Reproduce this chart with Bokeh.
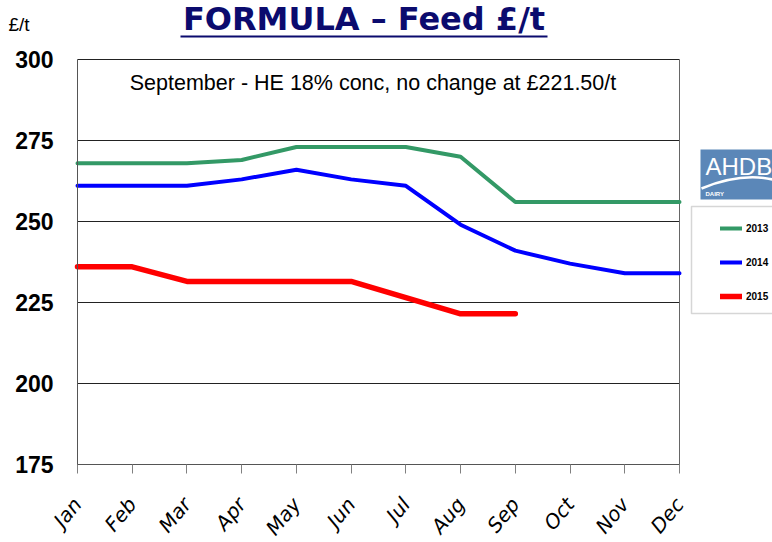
from bokeh.plotting import figure
from bokeh.models import (Range1d, FixedTicker, Label, BoxAnnotation, Legend,
                          LegendItem)
from bokeh.embed import file_html
from bokeh.resources import INLINE

# ---- data ----
months = ["Jan", "Feb", "Mar", "Apr", "May", "Jun",
          "Jul", "Aug", "Sep", "Oct", "Nov", "Dec"]
y2013 = [268, 268, 268, 269, 273, 273, 273, 270, 256, 256, 256, 256]
y2014 = [261, 261, 261, 263, 266, 263, 261, 249, 241, 237, 234, 234]
y2015 = [236, 236, 231.5, 231.5, 231.5, 231.5, 226.5, 221.5, 221.5]
y_ticks = [175, 200, 225, 250, 275, 300]
series_names = ["2013", "2014", "2015"]
series_colors = ["#339966", "#0000ff", "#ff0000"]

W, H = 772, 542
# pixel positions of the plot box on the canvas
FL, FT, FR, FB = 77, 59, 679, 464
n = len(months) - 1
xs = (FR - FL) / n                           # px per month
ys = (FB - FT) / (y_ticks[-1] - y_ticks[0])  # px per unit
x_start = 0 - FL / xs
x_end = n + (W - FR) / xs
y_end = y_ticks[-1] + FT / ys
y_start = y_ticks[0] - (H - FB) / ys

p = figure(width=W, height=H, output_backend="svg", toolbar_location=None,
           x_range=Range1d(x_start, x_end), y_range=Range1d(y_start, y_end),
           min_border=0, background_fill_color="white", border_fill_color="white")
p.title.visible = False
p.outline_line_color = None
p.xgrid.visible = False
p.ygrid.visible = False

def sx(px):
    return px

def sy(py):
    return H - py

def dx(px):
    return x_start + px / xs

def dy(py):
    return y_end - py / ys

def text_label(px, py, size, **kw):
    # py is the wanted baseline (from top); compensate for renderer offset
    return Label(x=sx(px), y=sy(py - 0.35 * size), x_units="screen",
                 y_units="screen", text_font_size=f"{size}px",
                 text_baseline="alphabetic", **kw)

# axes (fixed at the plot box edges)
p.xaxis.fixed_location = y_ticks[0]
p.xaxis.bounds = (0, n)
p.xaxis.ticker = FixedTicker(ticks=list(range(len(months))))
p.xaxis.major_label_overrides = {i: m for i, m in enumerate(months)}
p.xaxis.major_label_orientation = 0.88
p.xaxis.major_label_text_font = "DejaVu Sans"
p.xaxis.major_label_text_font_style = "italic"
p.xaxis.major_label_text_font_size = "20px"
p.xaxis.major_label_text_color = "black"
p.xaxis.major_label_standoff = 27
p.xaxis.major_tick_out = 9
p.xaxis.major_tick_in = 0
p.xaxis.major_tick_line_color = "#808080"
p.xaxis.minor_tick_line_color = None
p.xaxis.axis_line_color = "#555555"

p.yaxis.fixed_location = 0
p.yaxis.bounds = (y_ticks[0], y_ticks[-1])
p.yaxis.ticker = FixedTicker(ticks=y_ticks)
p.yaxis.major_label_text_font = "Liberation Sans"
p.yaxis.major_label_text_font_style = "bold"
p.yaxis.major_label_text_font_size = "23px"
p.yaxis.major_label_text_color = "black"
p.yaxis.major_label_standoff = 24
p.yaxis.major_tick_out = 0
p.yaxis.major_tick_in = 0
p.yaxis.minor_tick_line_color = None
p.yaxis.axis_line_color = "#555555"

# horizontal gridlines and right border of the plot box
p.segment(x0=[0] * len(y_ticks), y0=y_ticks, x1=[n] * len(y_ticks), y1=y_ticks,
          line_color="#222222", line_width=1)
p.segment(x0=[n], y0=[y_ticks[0]], x1=[n], y1=[y_ticks[-1]],
          line_color="#666666", line_width=1)

# lines
r13 = p.line(list(range(len(y2013))), y2013, line_color=series_colors[0],
             line_width=4, line_join="round", line_cap="round")
r14 = p.line(list(range(len(y2014))), y2014, line_color=series_colors[1],
             line_width=4, line_join="round", line_cap="round")
r15 = p.line(list(range(len(y2015))), y2015, line_color=series_colors[2],
             line_width=5.5, line_join="round", line_cap="round")

# legend box + legend
p.add_layout(BoxAnnotation(left=sx(691), right=sx(800), top=sy(206), bottom=sy(313),
                           left_units="screen", right_units="screen",
                           top_units="screen", bottom_units="screen",
                           fill_alpha=0, line_color="#777777", line_width=1.5))
legend = Legend(items=[LegendItem(label=nm, renderers=[r])
                       for nm, r in zip(series_names, [r13, r14, r15])],
                location=(sx(720), sy(306)),
                glyph_width=22, glyph_height=20, label_height=20, spacing=14,
                padding=0, margin=0, label_standoff=4,
                label_text_font="Liberation Sans", label_text_font_style="bold",
                label_text_font_size="10px", label_text_color="black",
                border_line_color=None, background_fill_alpha=0)
p.add_layout(legend)

# AHDB logo
p.add_layout(BoxAnnotation(left=sx(700), right=sx(800), top=sy(149), bottom=sy(199),
                           left_units="screen", right_units="screen",
                           top_units="screen", bottom_units="screen",
                           fill_color="#5b87b8", fill_alpha=1, line_color=None))
p.add_layout(text_label(705, 174, 24, text="AHDB", text_font="Liberation Sans",
                        text_color="white"))
p.quadratic(x0=[dx(701)], y0=[dy(188)], x1=[dx(772)], y1=[dy(179)],
            cx=[dx(740)], cy=[dy(172)], line_color="white", line_width=2.5,
            level="overlay")
p.add_layout(text_label(705, 196, 6, text="DAIRY", text_font="Liberation Sans",
                        text_font_style="bold", text_color="white"))

# title
p.add_layout(text_label(363.5, 30, 32, text="FORMULA \u2013 Feed \u00a3/t",
                        text_font="DejaVu Sans", text_font_style="bold",
                        text_color="#0b0b6e", text_align="center"))
p.add_layout(BoxAnnotation(left=sx(180), right=sx(547), top=sy(35), bottom=sy(37),
                           left_units="screen", right_units="screen",
                           top_units="screen", bottom_units="screen",
                           fill_color="#0b0b6e", fill_alpha=1, line_color=None))
# unit label
p.add_layout(text_label(8, 31, 19, text="\u00a3/t", text_font="Liberation Sans",
                        text_color="black"))
# annotation
p.add_layout(text_label(372.5, 90, 21.5,
                        text="September - HE 18% conc, no change at \u00a3221.50/t",
                        text_font="Liberation Sans", text_color="black",
                        text_align="center"))

open("out.html", "w").write(file_html(p, INLINE))
